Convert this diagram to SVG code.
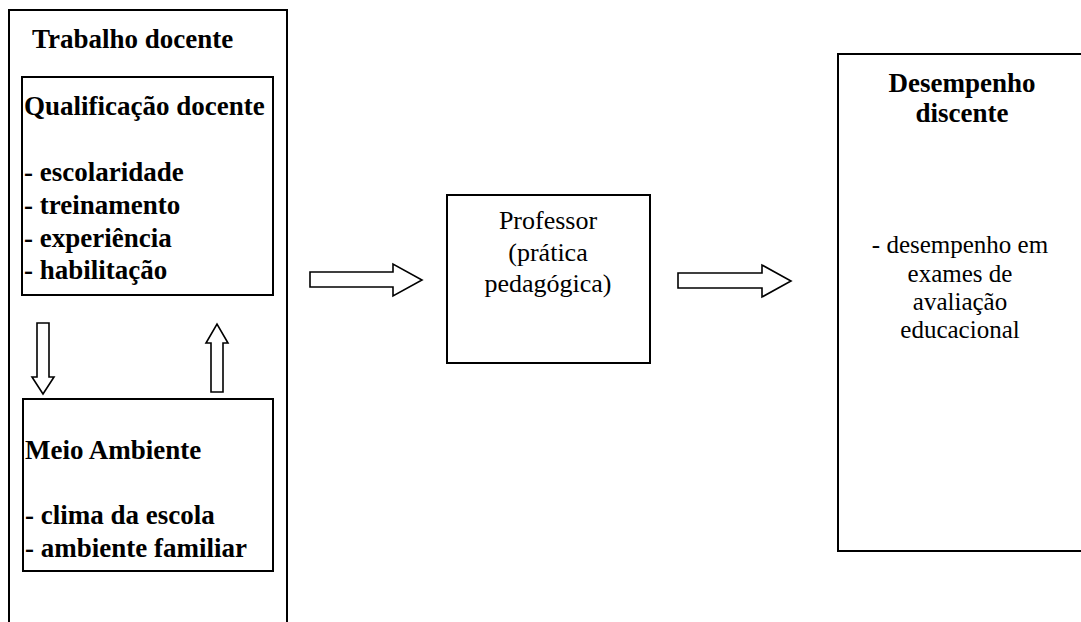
<svg xmlns="http://www.w3.org/2000/svg" width="1081" height="622" viewBox="0 0 1081 622">
<style>
.box{fill:#fff;stroke:#000;stroke-width:2}
.arr{fill:#fff;stroke:#000;stroke-width:1.6;stroke-linejoin:miter}
text{font-family:'Liberation Serif',serif;fill:#000}
.b{font-weight:bold;font-size:27px}
.r{font-size:26px}
.r2{font-size:25px}
.c{text-anchor:middle}
</style>
<rect width="1081" height="622" fill="#fff"/>
<g id="trabalho-docente">
<rect class="box" x="9" y="10" width="278" height="640"/>
<text class="b" x="32" y="48">Trabalho docente</text>
</g>
<g id="qualificacao-docente">
<rect class="box" x="22" y="77" width="251" height="218"/>
<text class="b" x="24" y="115">Qualificação docente</text>
<text class="b" x="24" y="181">- escolaridade</text>
<text class="b" x="24" y="214">- treinamento</text>
<text class="b" x="24" y="247">- experiência</text>
<text class="b" x="24" y="279">- habilitação</text>
</g>
<g id="meio-ambiente">
<rect class="box" x="23" y="399" width="250" height="172"/>
<text class="b" x="25" y="459">Meio Ambiente</text>
<text class="b" x="25" y="524">- clima da escola</text>
<text class="b" x="25" y="557">- ambiente familiar</text>
</g>
<g id="professor">
<rect class="box" x="447" y="195" width="203" height="168"/>
<text class="r c" x="548" y="229">Professor</text>
<text class="r c" x="548" y="261">(prática</text>
<text class="r c" x="548" y="292">pedagógica)</text>
</g>
<g id="desempenho-discente">
<rect class="box" x="838" y="54" width="250" height="497"/>
<text class="b c" x="962" y="92">Desempenho</text>
<text class="b c" x="962" y="122">discente</text>
<text class="r2 c" x="960" y="253">- desempenho em</text>
<text class="r2 c" x="960" y="282">exames de</text>
<text class="r2 c" x="960" y="310">avaliação</text>
<text class="r2 c" x="960" y="338">educacional</text>
</g>
<g id="connectors">
<polygon class="arr" points="37,323 49,323 49,377 54,377 43,394 32,377 37,377"/>
<polygon class="arr" points="211,392 223,392 223,343 228,343 217,324 206,343 211,343"/>
<polygon class="arr" points="310,272 393,272 393,264 422,280 393,296 393,287 310,287"/>
<polygon class="arr" points="678,273 762,273 762,265 791,281 762,297 762,288 678,288"/>
</g>
</svg>
